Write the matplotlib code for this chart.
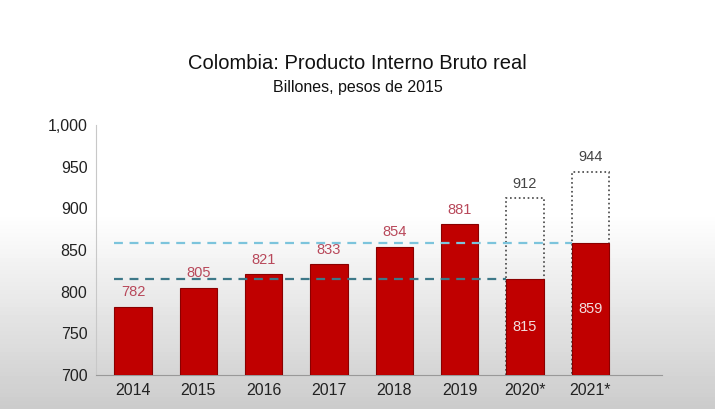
import numpy as np
import matplotlib.pyplot as plt

plt.rcParams["font.family"] = ["Liberation Sans", "DejaVu Sans"]

years = ["2014", "2015", "2016", "2017", "2018", "2019", "2020*", "2021*"]
pib = [782, 805, 821, 833, 854, 881, 815, 859]
potencial = [None, None, None, None, None, None, 912, 944]
linea_alta = 859
linea_baja = 815

fig = plt.figure(figsize=(7.15, 4.09), dpi=100)

# fondo con degradado gris hacia abajo
bg = fig.add_axes([0, 0, 1, 1], zorder=-1)
grad = np.ones((100, 1))
grad[52:, 0] = np.linspace(1.0, 0.80, 48)
bg.imshow(grad, aspect="auto", cmap="gray", vmin=0, vmax=1, extent=[0, 1, 0, 1], origin="upper")
bg.axis("off")

ax = fig.add_axes([0.134, 0.083, 0.792, 0.611])
ax.patch.set_alpha(0)
x = np.arange(len(years))
w = 0.57

for i, v in enumerate(potencial):
    if v is not None:
        ax.bar(x[i], v - 700, bottom=700, width=w, facecolor="none", edgecolor="#444444",
               linestyle=":", linewidth=1.2, zorder=2)
        ax.text(x[i], v + 9, str(v), ha="center", va="bottom", fontsize=10.5, color="#444444")

ax.bar(x, [p - 700 for p in pib], bottom=700, width=w, color="#c00000",
       edgecolor="#8a0000", linewidth=0.8, zorder=3)

for i, v in enumerate(pib):
    if potencial[i] is None:
        ax.text(x[i], v + 9, str(v), ha="center", va="bottom", fontsize=10.5, color="#b8485a")
    else:
        ax.text(x[i], (v + 700) / 2, str(v), ha="center", va="center", fontsize=10.5,
                color="#f2dede", zorder=4)

ax.plot([x[0] - w / 2, x[7] - w / 2], [linea_alta, linea_alta], linestyle=(0, (4, 3)),
        color="#7cc4dc", linewidth=1.6, zorder=4)
ax.plot([x[0] - w / 2, x[6] - w / 2], [linea_baja, linea_baja], linestyle=(0, (4, 3)),
        color="#3d7888", linewidth=1.6, zorder=4)

ax.set_ylim(700, 1000)
ax.set_xlim(-0.57, 8.1)
ax.set_yticks(range(700, 1001, 50))
ax.set_yticklabels(["700", "750", "800", "850", "900", "950", "1,000"])
ax.set_xticks(x)
ax.set_xticklabels(years)
ax.tick_params(axis="both", labelsize=11.5, length=0, pad=6, colors="#222222")
for s in ["top", "right"]:
    ax.spines[s].set_visible(False)
ax.spines["left"].set_color("#c8c8c8")
ax.spines["bottom"].set_color("#999999")

fig.text(0.5, 0.845, "Colombia: Producto Interno Bruto real", ha="center", va="center",
         fontsize=14.5, color="#111111")
fig.text(0.5, 0.785, "Billones, pesos de 2015", ha="center", va="center", fontsize=11.5,
         color="#111111")

fig.savefig("out.png", dpi=100)
